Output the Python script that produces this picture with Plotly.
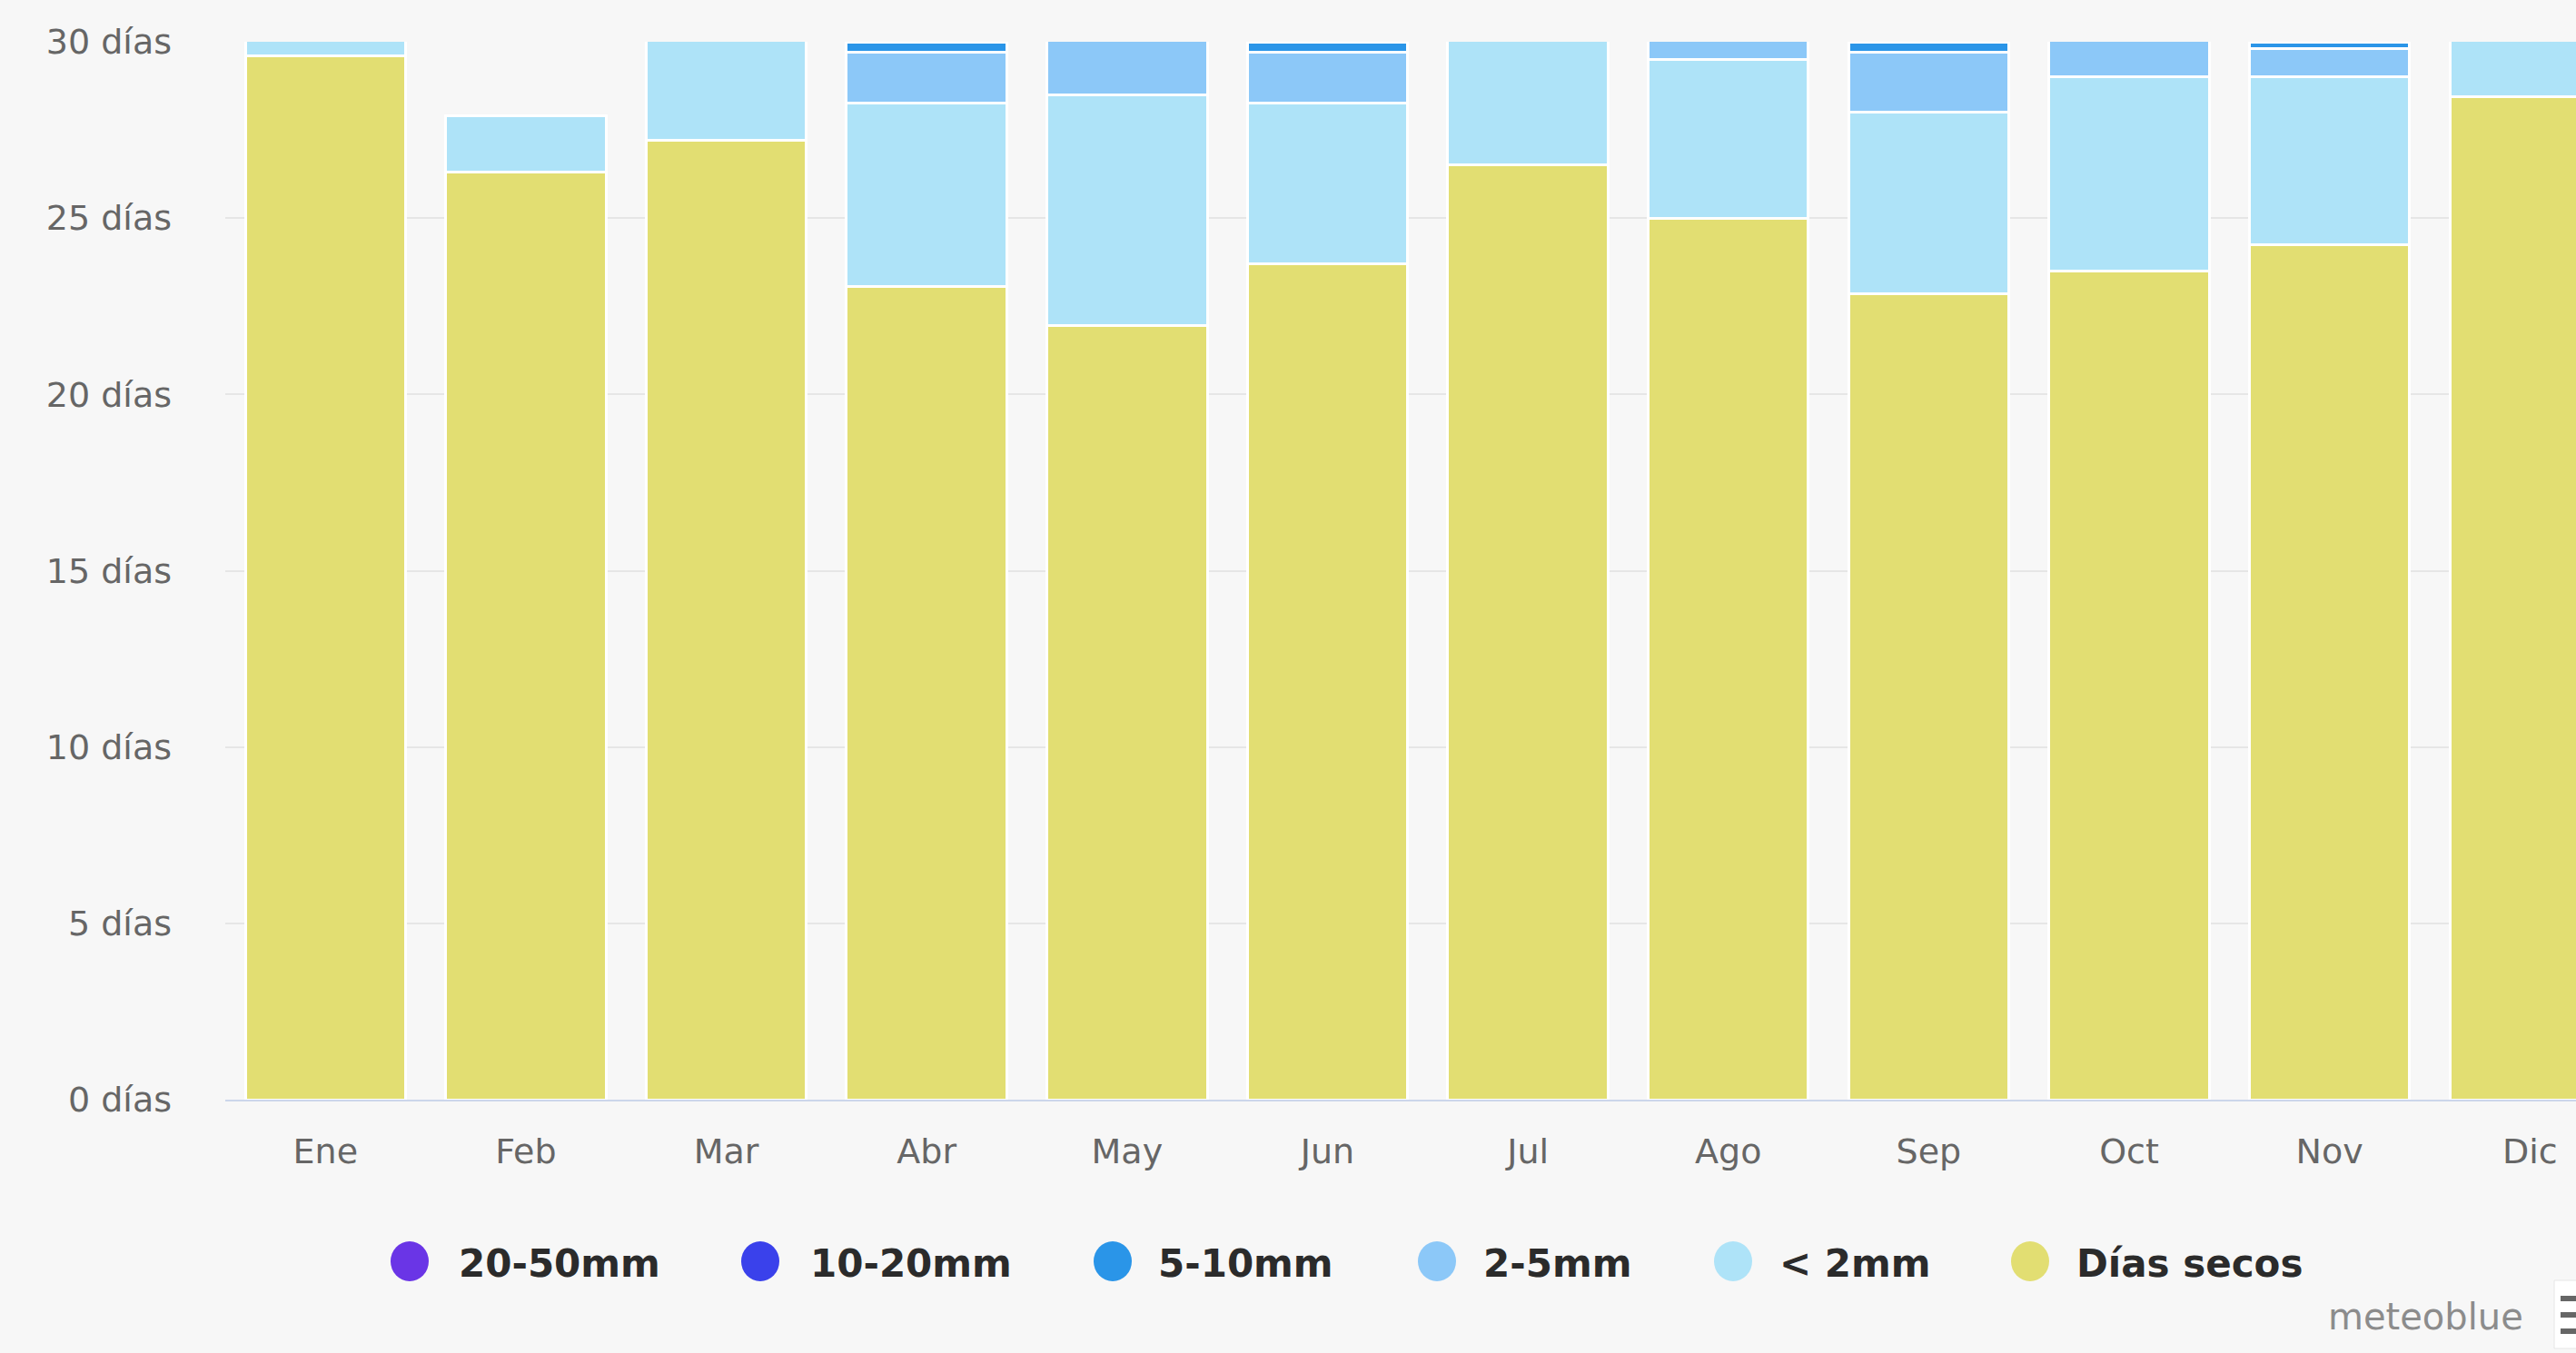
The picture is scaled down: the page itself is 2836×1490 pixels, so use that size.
import plotly.graph_objects as go

# ---------------- data ----------------
months = ["Ene", "Feb", "Mar", "Abr", "May", "Jun", "Jul", "Ago", "Sep", "Oct", "Nov", "Dic"]

dias_secos = [29.6, 26.3, 27.2, 23.05, 21.95, 23.7, 26.5, 25.0, 22.85, 23.5, 24.25, 28.45]
menos_2mm  = [1.4, 1.6, 3.3, 5.2, 6.55, 4.55, 4.0, 4.5, 5.15, 5.5, 4.75, 2.55]
mm_2_5     = [0, 0, 0.5, 1.45, 2.2, 1.45, 0.5, 1.3, 1.7, 1.7, 0.8, 0]
mm_5_10    = [0, 0, 0, 0.3, 0.3, 0.3, 0, 0.2, 0.3, 0.3, 0.2, 0]
mm_10_20   = [0, 0, 0, 0, 0, 0, 0, 0, 0, 0, 0, 0]
mm_20_50   = [0, 0, 0, 0, 0, 0, 0, 0, 0, 0, 0, 0]

y_ticks = [0, 5, 10, 15, 20, 25, 30]

series_names  = ["Días secos", "< 2mm", "2-5mm", "5-10mm", "10-20mm", "20-50mm"]
series_values = [dias_secos, menos_2mm, mm_2_5, mm_5_10, mm_10_20, mm_20_50]
series_colors = ["#e2de72", "#aee3f8", "#8cc8f8", "#2a95e8", "#3a41eb", "#6a35e6"]

# legend order (left to right) as in reference
legend_order = ["20-50mm", "10-20mm", "5-10mm", "2-5mm", "< 2mm", "Días secos"]

# ---------------- layout constants ----------------
W, H = 2836, 1490
ML, MR, MT, MB = 248, 0, 46, 279
PW = W - ML - MR
PH = H - MT - MB
BG = "#f7f7f7"


def px_x(px):
    return (px - ML) / PW


def px_y(py):
    return (H - MB - py) / PH


fig = go.Figure()
for name, vals, col in zip(series_names, series_values, series_colors):
    fig.add_trace(go.Bar(
        x=months,
        y=[v if v else None for v in vals],
        name=name,
        marker=dict(color=col, line=dict(color="#ffffff", width=3)),
        showlegend=False,
    ))

fig.update_layout(
    width=W, height=H,
    margin=dict(l=ML, r=MR, t=MT, b=MB, pad=0),
    barmode="stack",
    bargap=0.2,
    paper_bgcolor=BG,
    plot_bgcolor=BG,
    font=dict(family="DejaVu Sans", size=38, color="#666666"),
    xaxis=dict(
        type="category",
        range=[-0.5, 11.23],
        showgrid=False,
        showline=True,
        linecolor="#ccd6eb",
        linewidth=2,
        ticks="",
        ticklabelstandoff=22,
        tickfont=dict(family="DejaVu Sans", size=38, color="#666666"),
        fixedrange=True,
    ),
    yaxis=dict(
        range=[0, 30],
        tickvals=y_ticks,
        ticktext=[f"{v} días" for v in y_ticks],
        showgrid=True,
        gridcolor="#e6e6e6",
        gridwidth=2,
        zeroline=False,
        showline=False,
        ticks="",
        ticklabelstandoff=58,
        tickfont=dict(family="DejaVu Sans", size=38, color="#666666"),
        fixedrange=True,
    ),
)

# ---------------- custom legend (large circle symbols) ----------------
legend_circle_px = [451, 837, 1225, 1582, 1908, 2235]
legend_text_px = [503, 890, 1273, 1631, 1957, 2284]
legend_y_px = 1389
color_of = dict(zip(series_names, series_colors))

shapes = []
annotations = []
for name, cx, tx in zip(legend_order, legend_circle_px, legend_text_px):
    shapes.append(dict(
        type="circle", xref="paper", yref="paper",
        xsizemode="pixel", ysizemode="pixel",
        xanchor=px_x(cx), yanchor=px_y(legend_y_px),
        x0=-21, x1=21, y0=-22, y1=22,
        fillcolor=color_of[name], line=dict(width=0),
    ))
    annotations.append(dict(
        text=name, xref="paper", yref="paper",
        x=px_x(tx), y=px_y(legend_y_px + 2),
        xanchor="left", yanchor="middle", showarrow=False,
        font=dict(family="DejaVu Sans", size=42, color="#2b2b2b", weight="bold"),
    ))

# credits
annotations.append(dict(
    text="meteoblue", xref="paper", yref="paper",
    x=px_x(2670), y=px_y(1450), xanchor="center", yanchor="middle",
    showarrow=False, font=dict(family="DejaVu Sans", size=40, color="#8c8c8c"),
))

# partially visible export-menu button at bottom right
shapes.append(dict(type="rect", xref="paper", yref="paper",
                   x0=px_x(2812), x1=px_x(2860), y0=px_y(1485), y1=px_y(1410),
                   fillcolor="#ffffff", line=dict(color="#e6e6e6", width=1)))
for yy in (1430, 1448, 1466):
    shapes.append(dict(type="rect", xref="paper", yref="paper",
                       x0=px_x(2819), x1=px_x(2845), y0=px_y(yy + 3), y1=px_y(yy - 3),
                       fillcolor="#666666", line=dict(width=0)))

fig.update_layout(shapes=shapes, annotations=annotations)

fig.write_html(
    "out.html",
    config={"displayModeBar": False},
    post_script="document.body.style.margin='0';document.body.style.overflow='hidden';"
                "document.body.style.background='" + BG + "';",
)
